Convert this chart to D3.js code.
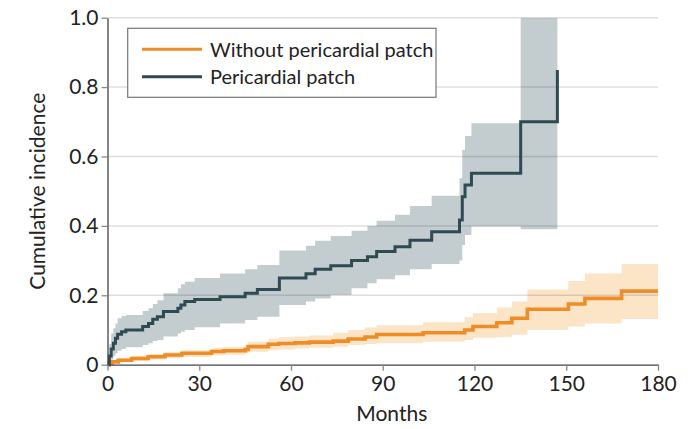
<!DOCTYPE html>
<html>
<head>
<meta charset="utf-8">
<script src="https://cdn.jsdelivr.net/npm/d3@7"></script>
<style>
  html, body { margin: 0; padding: 0; background: #fff; }
  svg { display: block; font-family: Lato, "Open Sans", sans-serif; }
</style>
</head>
<body>
<svg id="chart" width="695" height="429"></svg>
<script>
// Cumulative incidence estimates (step functions) with 95% confidence bands.
// Months at which each step begins.
const patchMonths = [0, 0.6, 1.2, 1.9, 2.6, 3.3, 4.6, 6.0, 11.5, 13.4, 14.8, 16.3, 18.3, 23, 24, 25.3, 28.5, 36.8, 45, 49, 56.2, 64.9, 67.9, 73, 79.8, 85, 88, 94, 98.9, 106, 115.1, 116, 116.9, 119, 135.1, 147.1];
const patchValues = [0, 0.025, 0.045, 0.062, 0.076, 0.088, 0.095, 0.100, 0.110, 0.119, 0.131, 0.138, 0.153, 0.163, 0.172, 0.182, 0.188, 0.196, 0.206, 0.217, 0.250, 0.262, 0.275, 0.285, 0.300, 0.311, 0.326, 0.340, 0.359, 0.383, 0.417, 0.484, 0.518, 0.552, 0.700, 0.849];
const patchLower = [0, 0.005, 0.015, 0.025, 0.033, 0.040, 0.045, 0.050, 0.057, 0.062, 0.068, 0.071, 0.081, 0.090, 0.095, 0.100, 0.108, 0.119, 0.129, 0.138, 0.172, 0.182, 0.191, 0.201, 0.220, 0.235, 0.246, 0.258, 0.275, 0.290, 0.300, 0.345, 0.374, 0.398, 0.390, 0.390];
const patchUpper = [0, 0.060, 0.090, 0.105, 0.119, 0.134, 0.140, 0.143, 0.155, 0.163, 0.175, 0.186, 0.206, 0.220, 0.232, 0.239, 0.250, 0.263, 0.275, 0.287, 0.329, 0.343, 0.357, 0.371, 0.386, 0.400, 0.415, 0.432, 0.457, 0.487, 0.537, 0.619, 0.659, 0.696, 1.000, 1.000];

const noPatchMonths = [0, 0.5, 1.5, 3.5, 7.9, 13.3, 18.8, 24.3, 34, 38, 45, 46, 52.6, 56, 61.3, 66, 73.8, 78.7, 84.2, 88, 103.2, 116.8, 119.5, 127.3, 132.2, 137.3, 150.7, 156.1, 168.1, 180];
const noPatchValues = [0, 0.004, 0.008, 0.013, 0.018, 0.023, 0.028, 0.033, 0.038, 0.040, 0.044, 0.052, 0.059, 0.061, 0.063, 0.065, 0.068, 0.074, 0.080, 0.087, 0.092, 0.100, 0.110, 0.121, 0.134, 0.160, 0.175, 0.191, 0.212, 0.212];
const noPatchLower = [0, 0.001, 0.004, 0.007, 0.011, 0.015, 0.019, 0.022, 0.027, 0.029, 0.032, 0.037, 0.042, 0.044, 0.047, 0.049, 0.052, 0.057, 0.060, 0.062, 0.066, 0.071, 0.078, 0.079, 0.086, 0.100, 0.110, 0.119, 0.132, 0.132];
const noPatchUpper = [0, 0.008, 0.013, 0.020, 0.026, 0.031, 0.036, 0.042, 0.049, 0.052, 0.057, 0.066, 0.075, 0.079, 0.081, 0.084, 0.092, 0.100, 0.107, 0.114, 0.122, 0.137, 0.148, 0.165, 0.182, 0.217, 0.241, 0.263, 0.290, 0.290];

const seriesNames = ["Without pericardial patch", "Pericardial patch"];
const xTicks = [0, 30, 60, 90, 120, 150, 180];
const yTicks = [0, 0.2, 0.4, 0.6, 0.8, 1.0];
const yTickLabels = ["0", "0.2", "0.4", "0.6", "0.8", "1.0"];

const colors = {
  patchLine: "#2e4a52", patchBand: "#c3cdcf",
  noPatchLine: "#f08c28", noPatchBand: "#fce4c6",
  grid: "#000", axis: "#444"
};

const svg = d3.select("#chart");
const plotLeft = 107.5, plotRight = 658, plotTop = 17.7, plotBottom = 364.7;

const x = d3.scaleLinear().domain([0, 180]).range([plotLeft, plotRight]);
const y = d3.scaleLinear().domain([0, 1]).range([plotBottom, plotTop]);

const toRows = (t, v, lo, hi) => t.map((m, i) => ({ m, v: v[i], lo: lo[i], hi: hi[i] }));
const patch = toRows(patchMonths, patchValues, patchLower, patchUpper);
const noPatch = toRows(noPatchMonths, noPatchValues, noPatchLower, noPatchUpper);

svg.append("defs").append("clipPath").attr("id", "plot-clip")
  .append("rect").attr("x", plotLeft).attr("y", plotTop)
  .attr("width", plotRight - plotLeft).attr("height", plotBottom - plotTop);

const band = d3.area().curve(d3.curveStepAfter)
  .x(d => x(d.m)).y0(d => y(d.lo)).y1(d => y(d.hi));
const line = d3.line().curve(d3.curveStepAfter)
  .x(d => x(d.m)).y(d => y(d.v));

const plot = svg.append("g").attr("clip-path", "url(#plot-clip)");

// confidence bands
plot.append("path").datum(noPatch).attr("d", band).attr("fill", colors.noPatchBand);
plot.append("path").datum(patch).attr("d", band).attr("fill", colors.patchBand);

// horizontal gridlines
svg.append("g").selectAll("line").data(yTicks.filter(d => d > 0)).join("line")
  .attr("x1", plotLeft).attr("x2", plotRight)
  .attr("y1", d => y(d)).attr("y2", d => y(d))
  .attr("stroke", colors.grid).attr("stroke-opacity", 0.13).attr("stroke-width", 1.5);

// step curves
svg.append("path").datum(noPatch).attr("d", line)
  .attr("fill", "none").attr("stroke", colors.noPatchLine).attr("stroke-width", 3.6);
svg.append("path").datum(patch).attr("d", line)
  .attr("fill", "none").attr("stroke", colors.patchLine).attr("stroke-width", 3);

// axes
const yAxis = svg.append("g").attr("transform", `translate(${plotLeft},0)`)
  .call(d3.axisLeft(y).tickValues(yTicks).tickFormat((d, i) => yTickLabels[i])
    .tickSize(6).tickSizeOuter(0).tickPadding(3));
const xAxis = svg.append("g").attr("transform", `translate(0,${plotBottom})`)
  .call(d3.axisBottom(x).tickValues(xTicks).tickFormat(d3.format("d"))
    .tickSize(6).tickSizeOuter(0).tickPadding(5));

[yAxis, xAxis].forEach(g => {
  g.select(".domain").attr("stroke", colors.axis).attr("stroke-width", 1.3);
  g.selectAll(".tick line").attr("stroke", "#888").attr("stroke-width", 1.3);
  g.selectAll(".tick text").attr("fill", "#222").attr("font-size", 21)
    .attr("font-family", "Lato, 'Open Sans', sans-serif");
});

// axis titles
svg.append("text").attr("x", (plotLeft + plotRight) / 2 + 9).attr("y", 421)
  .attr("text-anchor", "middle").attr("font-size", 21).attr("fill", "#222")
  .text("Months");
svg.append("text").attr("transform", `translate(45,${(plotTop + plotBottom) / 2}) rotate(-90)`)
  .attr("text-anchor", "middle").attr("font-size", 21).attr("fill", "#222")
  .text("Cumulative incidence");

// legend
const legend = svg.append("g");
legend.append("rect").attr("x", 127.7).attr("y", 28.3).attr("width", 308.3).attr("height", 69)
  .attr("fill", "#fff").attr("stroke", "#777").attr("stroke-width", 1.2);
const legendItems = [
  { name: seriesNames[0], color: colors.noPatchLine, ly: 49.3 },
  { name: seriesNames[1], color: colors.patchLine, ly: 76.7 }
];
legendItems.forEach(it => {
  legend.append("line").attr("x1", 142).attr("x2", 202).attr("y1", it.ly).attr("y2", it.ly)
    .attr("stroke", it.color).attr("stroke-width", 3);
  legend.append("text").attr("x", 210).attr("y", it.ly + 7.5)
    .attr("font-size", 20).attr("fill", "#222").text(it.name);
});
</script>
</body>
</html>
